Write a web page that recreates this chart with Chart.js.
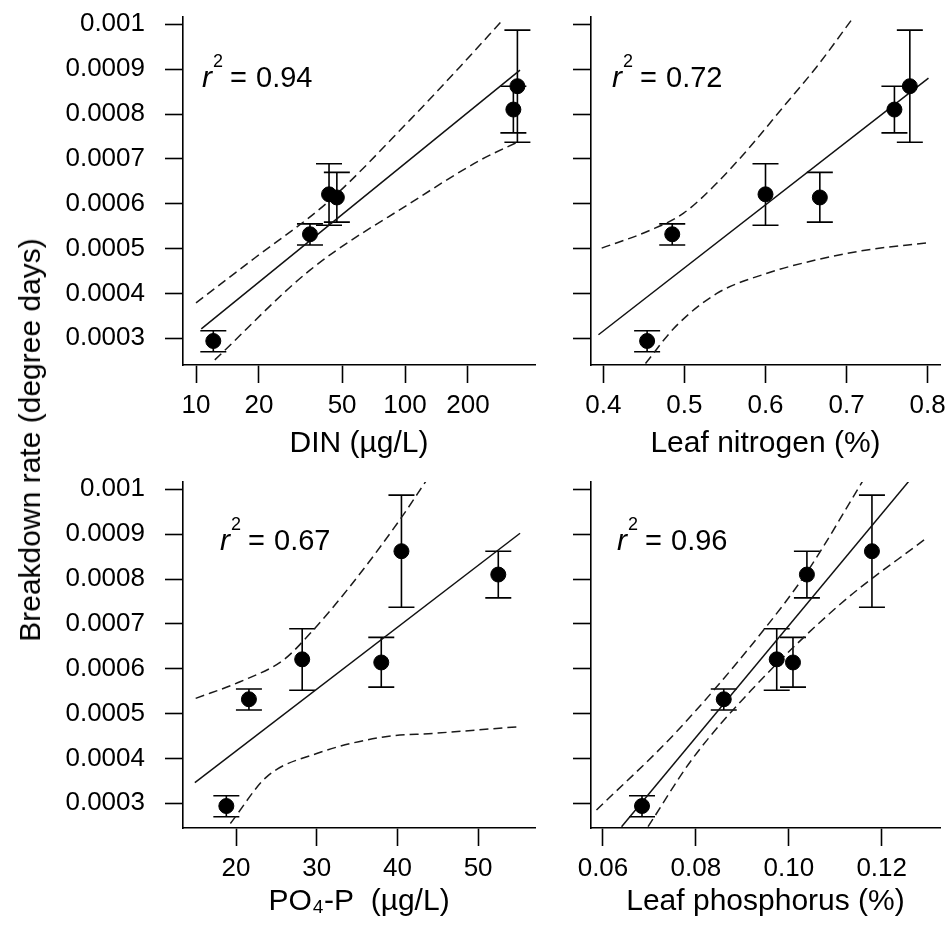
<!DOCTYPE html>
<html>
<head>
<meta charset="utf-8">
<script src="https://cdn.jsdelivr.net/npm/chart.js@4.4.1/dist/chart.umd.min.js"></script>
<style>
  html, body { margin: 0; padding: 0; background: #fff; }
  #wrap { position: relative; width: 950px; height: 929px; overflow: hidden; }
  canvas { position: absolute; }
  #ytitle {
    position: absolute; left: 30px; top: 440px;
    transform: translate(-50%, -50%) rotate(-90deg);
    font: 30px 'Liberation Sans', Arial, sans-serif; white-space: nowrap; color: #000;
  }
</style>
</head>
<body>
<div id="wrap">
  <canvas id="dinChart" width="560" height="465" style="left:0;top:0"></canvas>
  <canvas id="leafNChart" width="390" height="465" style="left:560px;top:0"></canvas>
  <canvas id="po4Chart" width="560" height="464" style="left:0;top:465px"></canvas>
  <canvas id="leafPChart" width="390" height="464" style="left:560px;top:465px"></canvas>
  <div id="ytitle">Breakdown rate (degree days)</div>
</div>
<script>
// breakdown rate of the six sites, same in every panel
const rate   = [0.000294, 0.000532, 0.000621, 0.000614, 0.000810, 0.000862];
const rateLo = [0.000270, 0.000508, 0.000552, 0.000559, 0.000758, 0.000737];
const rateHi = [0.000317, 0.000555, 0.000689, 0.000670, 0.000862, 0.000987];
const rateTicks  = [0.0003, 0.0004, 0.0005, 0.0006, 0.0007, 0.0008, 0.0009, 0.001];
const rateLabels = ['0.0003', '0.0004', '0.0005', '0.0006', '0.0007', '0.0008', '0.0009', '0.001'];

// predictors
const din   = [12.1, 35.1, 43.3, 47.2, 330, 345];
const leafN = [0.454, 0.485, 0.600, 0.667, 0.759, 0.778];
const po4   = [18.8, 21.6, 28.2, 38.0, 52.5, 40.5];
const leafP = [0.0684, 0.0860, 0.0974, 0.1009, 0.1039, 0.1179];

// fitted lines and confidence bands
const dinFitX = [10.6, 355];
const dinFitY = [0.000321, 0.000898];
const dinUpX  = [10.0, 19.1, 42.8, 105.7, 183, 294];
const dinUpY  = [0.000379, 0.000479, 0.000604, 0.000787, 0.000905, 0.00101];
const dinLoX  = [12.3, 35.1, 111.7, 228.6, 347.5];
const dinLoY  = [0.000252, 0.000452, 0.000608, 0.000697, 0.000738];

const nFitX = [0.394, 0.801];
const nFitY = [0.000308, 0.000880];
const nUpX  = [0.398, 0.458, 0.499, 0.540, 0.581, 0.622, 0.663, 0.709];
const nUpY  = [0.000501, 0.000541, 0.000579, 0.000646, 0.000727, 0.000816, 0.000905, 0.001017];
const nLoX  = [0.452, 0.489, 0.540, 0.602, 0.663, 0.725, 0.801];
const nLoY  = [0.000244, 0.000326, 0.000400, 0.000445, 0.000475, 0.000497, 0.000513];

const pFitX = [14.9, 55.2];
const pFitY = [0.000346, 0.000902];
const pUpX  = [15.0, 20.5, 25.9, 29.2, 34.1, 40.3, 43.6];
const pUpY  = [0.000534, 0.000571, 0.000620, 0.000679, 0.000783, 0.000932, 0.00102];
const pLoX  = [19.3, 23.8, 30.0, 38.3, 44.5, 55.2];
const pLoY  = [0.000255, 0.000359, 0.000411, 0.000448, 0.000456, 0.000471];

const lpFitX = [0.0640, 0.1260];
const lpFitY = [0.000248, 0.00102];
const lpUpX  = [0.0586, 0.0755, 0.0934, 0.1042, 0.1160];
const lpUpY  = [0.000285, 0.000456, 0.000671, 0.000820, 0.00102];
const lpLoX  = [0.0697, 0.0791, 0.0920, 0.1113, 0.1296];
const lpLoY  = [0.000248, 0.000397, 0.000553, 0.000746, 0.000891];

const dinTicks = [10, 20, 50, 100, 200];
const dinLabels = ['10', '20', '50', '100', '200'];
const nTicks = [0.4, 0.5, 0.6, 0.7, 0.8];
const nLabels = ['0.4', '0.5', '0.6', '0.7', '0.8'];
const pTicks = [20, 30, 40, 50];
const pLabels = ['20', '30', '40', '50'];
const lpTicks = [0.06, 0.08, 0.10, 0.12];
const lpLabels = ['0.06', '0.08', '0.10', '0.12'];

const r2 = ['0.94', '0.72', '0.67', '0.96'];

Chart.defaults.font.family = "'Liberation Sans', Arial, sans-serif";
Chart.defaults.color = '#000';

const pts = (xs, ys) => xs.map((x, i) => ({x: x, y: ys[i]}));

function errBars(xs) {
  return {
    id: 'errbars',
    beforeDatasetsDraw(chart) {
      const ctx = chart.ctx, sx = chart.scales.x, sy = chart.scales.y;
      ctx.save();
      ctx.strokeStyle = '#000';
      ctx.lineWidth = 1.6;
      xs.forEach((x, i) => {
        const px = sx.getPixelForValue(x);
        const top = sy.getPixelForValue(rateHi[i]);
        const bot = sy.getPixelForValue(rateLo[i]);
        ctx.beginPath();
        ctx.moveTo(px, top); ctx.lineTo(px, bot);
        ctx.moveTo(px - 13, top); ctx.lineTo(px + 13, top);
        ctx.moveTo(px - 13, bot); ctx.lineTo(px + 13, bot);
        ctx.stroke();
      });
      ctx.restore();
    }
  };
}

function r2Label(val, dx, dy) {
  return {
    id: 'r2label',
    afterDraw(chart) {
      const ctx = chart.ctx, a = chart.chartArea;
      const x = a.left + dx, y = a.top + dy;
      const fam = "'Liberation Sans', Arial, sans-serif";
      ctx.save();
      ctx.fillStyle = '#000';
      ctx.textBaseline = 'alphabetic';
      ctx.font = 'italic 30px ' + fam;
      ctx.fillText('r', x, y);
      ctx.font = '18px ' + fam;
      ctx.fillText('2', x + 11, y - 20);
      ctx.font = '29px ' + fam;
      ctx.fillText('=', x + 28, y);
      ctx.fillText(val, x + 54, y);
      ctx.restore();
    }
  };
}

function panel(id, o) {
  const axisGrid = { drawOnChartArea: false, drawTicks: true, tickLength: 18, tickColor: '#000', tickWidth: 1.6 };
  const axisBorder = { display: true, color: '#000', width: 1.6 };
  const band = (xs, ys) => ({
    type: 'scatter', showLine: true, data: pts(xs, ys), pointRadius: 0,
    borderColor: '#1a1a1a', borderWidth: 1.5, borderDash: [9, 5],
    cubicInterpolationMode: 'monotone', order: 2
  });
  new Chart(document.getElementById(id), {
    data: {
      datasets: [
        { type: 'scatter', data: pts(o.x, rate), pointRadius: 7.5, pointBackgroundColor: '#000',
          pointBorderColor: '#000', order: 0 },
        { type: 'scatter', showLine: true, data: pts(o.fitX, o.fitY), pointRadius: 0,
          borderColor: '#111', borderWidth: 1.5, order: 1 },
        band(o.upX, o.upY),
        band(o.loX, o.loY)
      ]
    },
    options: {
      responsive: false,
      animation: false,
      layout: { padding: o.pad },
      plugins: { legend: { display: false }, tooltip: { enabled: false } },
      scales: {
        x: {
          type: o.xType, min: o.xMin, max: o.xMax,
          afterBuildTicks: s => { s.ticks = o.xTicks.map(v => ({value: v})); },
          afterFit: s => { s.height = o.xH; s.paddingLeft = 0; s.paddingRight = 0; },
          ticks: { callback: (v, i) => o.xLabels[i], font: {size: 26}, padding: 7,
                   maxRotation: 0, autoSkip: false },
          grid: axisGrid,
          border: axisBorder,
          title: { display: true, text: o.xTitle, font: {size: 30}, padding: {top: 0, bottom: o.titlePad} }
        },
        y: {
          type: 'linear', min: o.yMin, max: o.yMax,
          afterBuildTicks: s => { s.ticks = rateTicks.map(v => ({value: v})); },
          afterFit: s => { s.width = o.yW; s.paddingTop = 0; s.paddingBottom = 0; },
          ticks: { display: o.showY, callback: (v, i) => rateLabels[i], font: {size: 26}, padding: 20 },
          grid: axisGrid,
          border: axisBorder
        }
      }
    },
    plugins: [errBars(o.x), r2Label(o.r2, o.r2dx, o.r2dy)]
  });
}

panel('dinChart', {
  x: din, fitX: dinFitX, fitY: dinFitY, upX: dinUpX, upY: dinUpY, loX: dinLoX, loY: dinLoY,
  xType: 'logarithmic', xMin: 8.665, xMax: 418.8, xTicks: dinTicks, xLabels: dinLabels,
  xTitle: 'DIN (µg/L)', yMin: 0.0002405, yMax: 0.0010163, showY: true,
  pad: {left: 0, right: 25, top: 17, bottom: 0}, yW: 183, xH: 100, titlePad: 3,
  r2: r2[0], r2dx: 19, r2dy: 70
});

panel('leafNChart', {
  x: leafN, fitX: nFitX, fitY: nFitY, upX: nUpX, upY: nUpY, loX: nLoX, loY: nLoY,
  xType: 'linear', xMin: 0.3848, xMax: 0.8152, xTicks: nTicks, xLabels: nLabels,
  xTitle: 'Leaf nitrogen (%)', yMin: 0.0002405, yMax: 0.0010163, showY: false,
  pad: {left: 0, right: 10, top: 17, bottom: 0}, yW: 31, xH: 100, titlePad: 3,
  r2: r2[1], r2dx: 21, r2dy: 70
});

panel('po4Chart', {
  x: po4, fitX: pFitX, fitY: pFitY, upX: pUpX, upY: pUpY, loX: pLoX, loY: pLoY,
  xType: 'linear', xMin: 13.43, xMax: 57.05, xTicks: pTicks, xLabels: pLabels,
  xTitle: 'PO₄-P  (µg/L)', yMin: 0.000245, yMax: 0.0010163, showY: true,
  pad: {left: 0, right: 25, top: 17, bottom: 0}, yW: 183, xH: 101, titlePad: 9,
  r2: r2[2], r2dx: 37, r2dy: 68
});

panel('leafPChart', {
  x: leafP, fitX: lpFitX, fitY: lpFitY, upX: lpUpX, upY: lpUpY, loX: lpLoX, loY: lpLoY,
  xType: 'linear', xMin: 0.05742, xMax: 0.13255, xTicks: lpTicks, xLabels: lpLabels,
  xTitle: 'Leaf phosphorus (%)', yMin: 0.000245, yMax: 0.0010163, showY: false,
  pad: {left: 0, right: 10, top: 17, bottom: 0}, yW: 31, xH: 101, titlePad: 9,
  r2: r2[3], r2dx: 26, r2dy: 68
});
</script>
</body>
</html>
